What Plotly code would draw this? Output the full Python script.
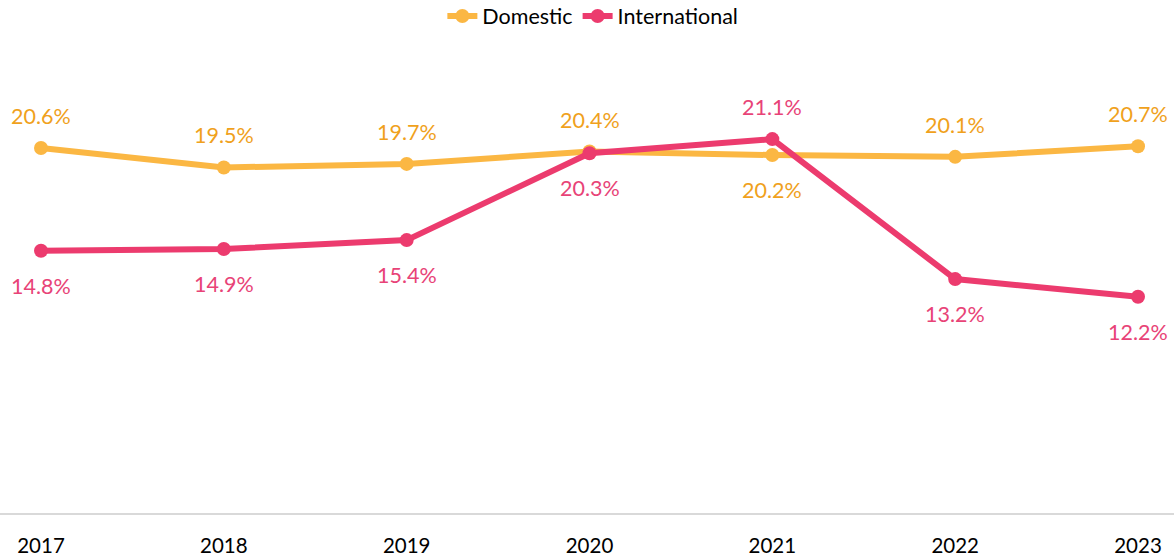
import plotly.graph_objects as go

years = ["2017", "2018", "2019", "2020", "2021", "2022", "2023"]
domestic = [20.6, 19.5, 19.7, 20.4, 20.2, 20.1, 20.7]
international = [14.8, 14.9, 15.4, 20.3, 21.1, 13.2, 12.2]
dom_label_pos = ["top", "top", "top", "top", "bottom", "top", "top"]
intl_label_pos = ["bottom", "bottom", "bottom", "bottom", "top", "bottom", "bottom"]

DOM_LINE = "#FBB743"
DOM_TEXT = "#F0A11C"
INTL_LINE = "#EC3B6E"
INTL_TEXT = "#E84377"
FONT = "Lato, Open Sans, sans-serif"

x = list(range(len(years)))

fig = go.Figure()
fig.add_trace(go.Scatter(x=x, y=domestic, name="Domestic", mode="lines+markers",
                         line=dict(color=DOM_LINE, width=6),
                         marker=dict(color=DOM_LINE, size=14)))
fig.add_trace(go.Scatter(x=x, y=international, name="International", mode="lines+markers",
                         line=dict(color=INTL_LINE, width=6),
                         marker=dict(color=INTL_LINE, size=14)))

annotations = []
for vals, pos, col in [(domestic, dom_label_pos, DOM_TEXT), (international, intl_label_pos, INTL_TEXT)]:
    for i, (v, p) in enumerate(zip(vals, pos)):
        annotations.append(dict(x=x[i], y=v, text=f"{v:.1f}%", showarrow=False,
                                yshift=32 if p == "top" else -35,
                                font=dict(family=FONT, size=21.5, color=col)))

px_per = (1138 - 41) / 6
fig.update_layout(
    width=1174, height=558,
    margin=dict(l=0, r=0, t=70, b=45, autoexpand=False),
    plot_bgcolor="white", paper_bgcolor="white",
    font=dict(family=FONT, size=19, color="black"),
    showlegend=True,
    legend=dict(orientation="h", x=0.505, xanchor="center", y=1.122, yanchor="middle",
                font=dict(family=FONT, size=21.5, color="black")),
    annotations=annotations,
    xaxis=dict(range=[-41 / px_per, 6 + 36 / px_per], tickmode="array", tickvals=x, ticktext=years,
               showgrid=False, zeroline=False, showline=True, linecolor="#D9D9D9", linewidth=2,
               ticks="outside", ticklen=13, tickcolor="rgba(0,0,0,0)", automargin=False,
               tickfont=dict(family=FONT, size=20.5, color="black")),
    yaxis=dict(range=[0, 25], showgrid=False, zeroline=False, showticklabels=False,
               showline=False, automargin=False),
)

fig.write_html("out.html", config={"displayModeBar": False},
               post_script="document.body.style.margin='0';document.body.style.overflow='hidden';")
